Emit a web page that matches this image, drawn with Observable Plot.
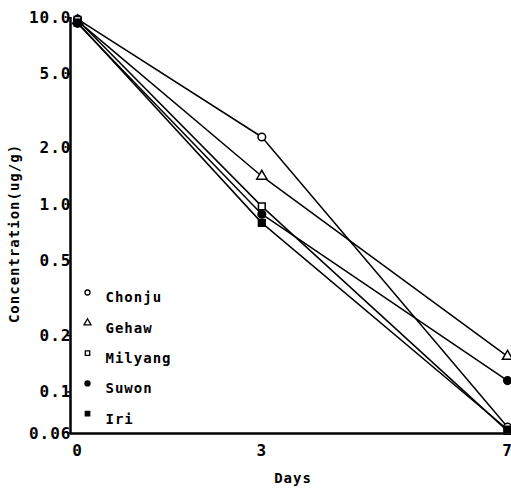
<!DOCTYPE html>
<html>
<head>
<meta charset="utf-8">
<script src="https://cdn.jsdelivr.net/npm/d3@7"></script>
<script src="https://cdn.jsdelivr.net/npm/@observablehq/plot@0.6"></script>
<style>
  html, body { margin: 0; padding: 0; background: white; }
  #chart svg { display: block; }
</style>
</head>
<body>
<div id="chart"></div>
<script>
const days = [0, 3, 7];
const seriesNames = ["Chonju", "Gehaw", "Milyang", "Suwon", "Iri"];
const chonju  = [9.8, 2.3, 0.065];
const gehaw   = [9.6, 1.42, 0.155];
const milyang = [9.7, 0.98, 0.062];
const suwon   = [9.3, 0.89, 0.115];
const iri     = [9.4, 0.80, 0.063];
const yTicks = [0.06, 0.1, 0.2, 0.5, 1, 2, 5, 10];
const yTickLabels = ["0.06", "0.1", "0.2", "0.5", "1.0", "2.0", "5.0", "10.0"];
const xTicks = [0, 3, 7];
const xTickLabels = ["0", "3", "7"];

const seriesValues = [chonju, gehaw, milyang, suwon, iri];
const symbols = ["circle", "triangle", "square", "circle", "square"];
const fills = ["white", "white", "white", "black", "black"];

const rows = [];
seriesNames.forEach((name, s) => {
  days.forEach((d, i) => rows.push({series: name, day: d, value: seriesValues[s][i], s}));
});

const xDomain = [-0.115, 7];
const font = "'DejaVu Sans Mono', 'Liberation Mono', monospace";

const legendMarks = [];
seriesNames.forEach((name, s) => {
  legendMarks.push(Plot.dot([name], {
    frameAnchor: "top-left", dx: 17, dy: 275 + s * 30.3,
    symbol: symbols[s], r: s === 1 ? 2.6 : 2.5, fill: fills[s], stroke: "black", strokeWidth: 1.3
  }));
  legendMarks.push(Plot.text([name], {
    frameAnchor: "top-left", dx: 35, dy: 275 + s * 30.3, text: d => d,
    textAnchor: "start", fontWeight: "bold", fontSize: 14
  }));
});

const chart = Plot.plot({
  width: 511,
  height: 489,
  marginLeft: 70,
  marginRight: 4,
  marginTop: 17,
  marginBottom: 56,
  style: {fontFamily: font, fontSize: "14px", background: "white", color: "black", letterSpacing: "1px"},
  x: {type: "linear", domain: xDomain},
  y: {type: "log", domain: [0.06, 10]},
  marks: [
    Plot.axisY({ticks: yTicks, tickSize: 3, text: null, label: null, strokeWidth: 1.5}),
    Plot.text(yTicks, {y: d => d, text: (d, i) => yTickLabels[i], frameAnchor: "left", textAnchor: "end", dx: 1, fontWeight: "bold", fontSize: 16}),
    Plot.axisX({ticks: xTicks, tickSize: 0, text: null, label: null}),
    Plot.text(xTicks, {x: d => d, text: (d, i) => xTickLabels[i], frameAnchor: "bottom", dy: 22, fontWeight: "bold", fontSize: 16}),
    Plot.ruleX([xDomain[0]], {stroke: "black", strokeWidth: 2.5}),
    Plot.ruleY([0.06], {stroke: "black", strokeWidth: 2.5}),
    Plot.line(rows, {x: "day", y: "value", z: "series", stroke: "black", strokeWidth: 1.5}),
    Plot.dot(rows, {x: "day", y: "value", symbol: d => symbols[d.s], fill: d => fills[d.s], stroke: "black", strokeWidth: 1.5, r: 3.8}),
    Plot.text(["Concentration(ug/g)"], {frameAnchor: "left", textAnchor: "middle", rotate: -90, dx: -56, dy: 8, text: d => d, fontWeight: "bold", fontSize: 14}),
    Plot.text(["Days"], {frameAnchor: "bottom", textAnchor: "middle", dx: 4, dy: 49, text: d => d, fontWeight: "bold", fontSize: 14}),
    ...legendMarks
  ]
});
document.getElementById("chart").appendChild(chart);
</script>
</body>
</html>
